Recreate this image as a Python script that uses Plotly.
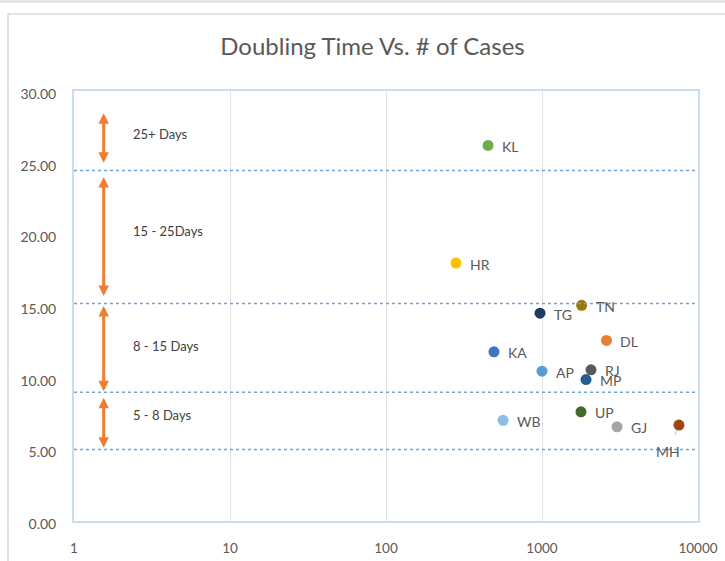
import math
import plotly.graph_objects as go

# ---- data ----
states = ["KL", "HR", "TG", "TN", "DL", "KA", "AP", "RJ", "MP", "UP", "WB", "GJ", "MH"]
cases = [451, 281, 971, 1795, 2590, 492, 1000, 2061, 1915, 1778, 563, 3027, 7550]
doubling_days = [26.2, 18.0, 14.5, 15.05, 12.6, 11.8, 10.45, 10.55, 9.87, 7.62, 7.03, 6.57, 6.69]
colors = ["#70AD47", "#FFC000", "#1F3864", "#9C7A0A", "#ED7D31", "#4472C4", "#5B9BD5",
          "#595959", "#255E91", "#43682B", "#8FBCE6", "#A5A5A5", "#9E480E"]

band_lines = [24.46, 15.18, 8.99, 4.99]
band_labels = ["25+ Days", "15 - 25Days", "8 - 15 Days", "5 - 8 Days"]
band_label_y = [27.0, 20.2, 12.2, 7.43]
band_arrows = [(28.56, 25.0), (24.11, 15.69), (15.11, 9.06), (8.71, 5.11)]
arrow_x = 1.55
label_x = 2.33

x_ticks = [1, 10, 100, 1000, 10000]
y_ticks = [0, 5, 10, 15, 20, 25, 30]

FONT = "Lato, 'Open Sans', sans-serif"
GREY = "#595959"

fig = go.Figure()
fig.add_trace(go.Scatter(
    x=cases, y=doubling_days, mode="markers",
    marker=dict(size=11, color=colors, line=dict(width=0)),
    hoverinfo="text", text=states, showlegend=False,
))

annotations = []
for s, cx, cy in zip(states, cases, doubling_days):
    if s == "MH":
        annotations.append(dict(
            x=math.log10(cx), y=cy, xref="x", yref="y", text=s,
            showarrow=True, ax=-11, ay=26, arrowhead=0, arrowwidth=1,
            arrowcolor="#BFBFBF", standoff=6, startstandoff=7,
            font=dict(family=FONT, size=14, color=GREY)))
    else:
        annotations.append(dict(
            x=math.log10(cx), y=cy, xref="x", yref="y", text=s,
            showarrow=False, xanchor="left", yanchor="middle", xshift=12, yshift=-1,
            font=dict(family=FONT, size=14, color=GREY)))

for (y1, y0) in band_arrows:
    annotations.append(dict(
        x=math.log10(arrow_x), y=y0, ax=math.log10(arrow_x), ay=y1,
        xref="x", yref="y", axref="x", ayref="y", text="",
        showarrow=True, arrowside="end+start", arrowhead=2, arrowsize=0.7,
        arrowwidth=3, arrowcolor="#ED7D31"))

for t, ty in zip(band_labels, band_label_y):
    annotations.append(dict(
        x=math.log10(label_x), y=ty, xref="x", yref="y", text=t,
        showarrow=False, xanchor="left", yanchor="middle",
        font=dict(family=FONT, size=13, color="#404040")))

shapes = []
for by in band_lines:
    shapes.append(dict(type="line", xref="paper", yref="y", x0=0, x1=1, y0=by, y1=by,
                       line=dict(color="#6FA3D6", width=1.5, dash="dot")))
# outer chart border and top separator
shapes.append(dict(type="rect", xref="paper", yref="paper", x0=-0.1058, x1=1.06,
                   y0=-0.12, y1=1.1791, line=dict(color="#D9D9D9", width=1.5), layer="below"))
shapes.append(dict(type="line", xref="paper", yref="paper", x0=-0.2, x1=1.2,
                   y0=1.2081, y1=1.2081, line=dict(color="#D9D9D9", width=2), layer="below"))

fig.update_layout(
    width=725, height=561,
    margin=dict(l=74, r=27, t=91, b=40),
    paper_bgcolor="white", plot_bgcolor="white",
    title=dict(text="Doubling Time Vs. # of Cases", x=372.5 / 725, xref="container",
               xanchor="center", y=1 - 47 / 561, yanchor="middle",
               font=dict(family=FONT, size=24, color=GREY)),
    annotations=annotations, shapes=shapes,
    font=dict(family=FONT, color=GREY),
)
fig.update_xaxes(type="log", range=[0, 4], tickvals=x_ticks, ticktext=[str(v) for v in x_ticks],
                 showgrid=True, gridcolor="#E3E3E3", gridwidth=1,
                 showline=True, linecolor="#CADCF0", linewidth=2, mirror=True,
                 ticks="", ticklabelstandoff=14, zeroline=False, automargin=False,
                 tickfont=dict(family=FONT, size=13.5, color=GREY))
fig.update_yaxes(range=[0, 30], tickvals=y_ticks, tickformat=".2f",
                 showgrid=False, zeroline=False, automargin=False,
                 showline=True, linecolor="#CADCF0", linewidth=2, mirror=True,
                 ticks="", ticklabelstandoff=13, ticklabelshift=3,
                 tickfont=dict(family=FONT, size=14, color=GREY))

fig.write_html("out.html", config={"displayModeBar": False},
               post_script="document.body.style.margin='0';")
